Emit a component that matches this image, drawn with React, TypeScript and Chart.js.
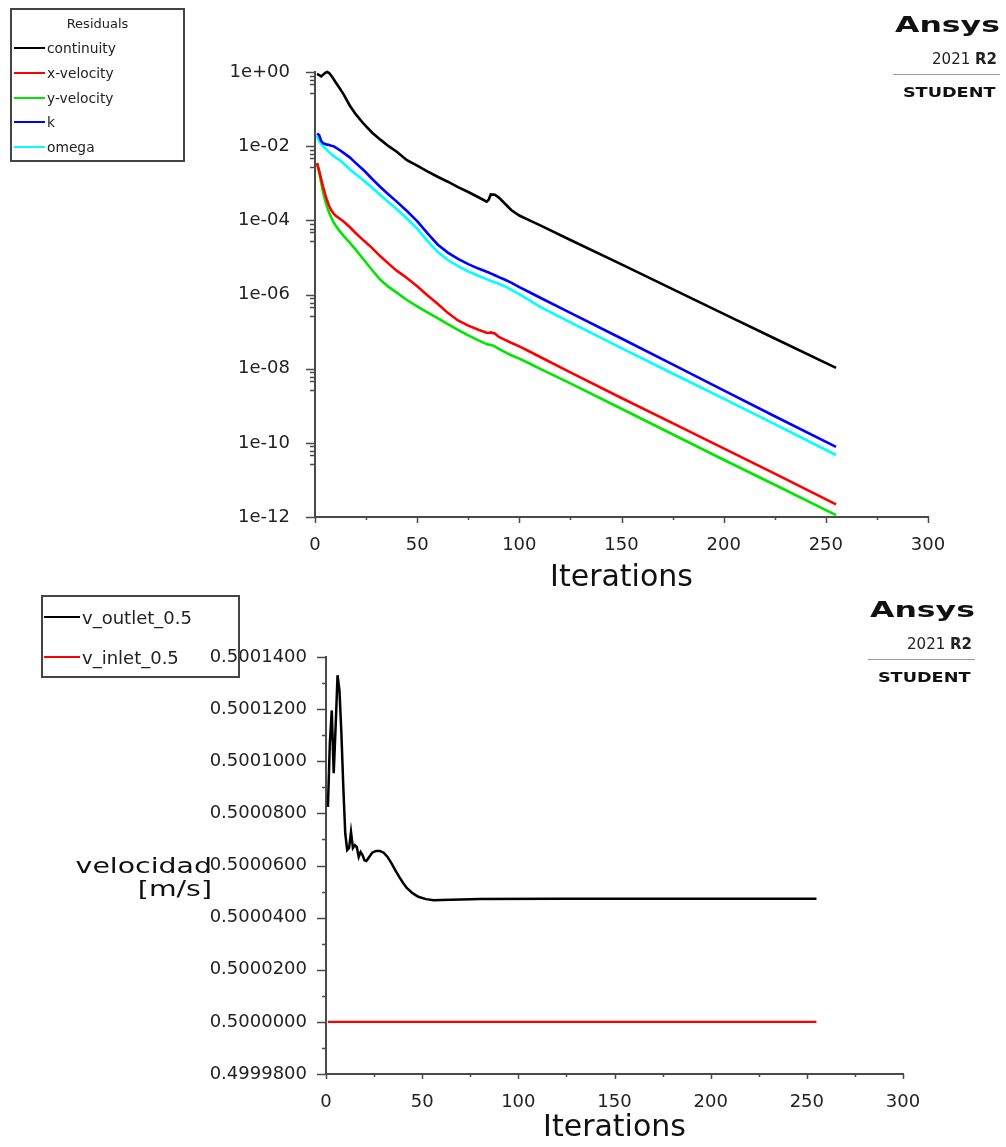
import React, { useEffect, useRef } from 'react';
import { Chart, registerables } from 'chart.js';

Chart.register(...registerables);

const FONT = "'DejaVu Sans', 'Liberation Sans', sans-serif";
const AXIS_COLOR = '#4a4a4a';
const TEXT_COLOR = '#222222';
Chart.defaults.font.family = FONT;
Chart.defaults.color = TEXT_COLOR;

// ---------- Residuals chart data ----------
const ITER_RES = [1, 2, 3, 4, 5, 6, 7, 8, 9, 10, 12, 14, 17, 20, 24, 28, 32, 36, 40, 45, 50, 55, 60, 65, 70, 75, 80, 84, 85, 86, 88, 90, 93, 96, 100, 105, 110, 125, 150, 175, 200, 225, 255];

const CONTINUITY = [
  0.89, 0.83, 0.76, 0.85, 0.95, 1.0, 0.93, 0.79, 0.66, 0.54,
  0.37, 0.25, 0.125, 0.072, 0.039, 0.023, 0.015, 0.010, 0.0071, 0.0042,
  0.0030, 0.0021, 0.0015, 0.0011, 7.9e-4, 5.8e-4, 4.2e-4, 3.2e-4, 3.6e-4, 5.0e-4,
  4.9e-4, 4.1e-4, 2.8e-4, 1.9e-4, 1.35e-4, 1.0e-4, 7.4e-5, 2.95e-5, 6.5e-6, 1.4e-6,
  3.0e-7, 6.5e-8, 1.05e-8,
];

const X_VELOCITY = [
  3.5e-3, 2.2e-3, 1.32e-3, 7.9e-4, 5.0e-4, 3.3e-4, 2.4e-4, 1.86e-4, 1.55e-4, 1.35e-4,
  1.12e-4, 9.3e-5, 6.6e-5, 4.5e-5, 2.8e-5, 1.78e-5, 1.07e-5, 6.8e-6, 4.4e-6, 2.8e-6,
  1.66e-6, 9.5e-7, 5.6e-7, 3.2e-7, 2.0e-7, 1.45e-7, 1.12e-7, 9.3e-8, 9.2e-8, 9.5e-8,
  8.9e-8, 7.2e-8, 6.0e-8, 5.0e-8, 4.0e-8, 2.9e-8, 2.1e-8, 7.9e-9, 1.62e-9, 3.4e-10,
  7.1e-11, 1.48e-11, 2.2e-12,
];

const Y_VELOCITY = [
  3.5e-3, 2.0e-3, 1.05e-3, 5.6e-4, 3.4e-4, 2.24e-4, 1.58e-4, 1.17e-4, 9.1e-5, 7.4e-5,
  5.2e-5, 3.8e-5, 2.5e-5, 1.6e-5, 8.5e-6, 4.5e-6, 2.5e-6, 1.6e-6, 1.12e-6, 7.1e-7,
  4.8e-7, 3.3e-7, 2.3e-7, 1.6e-7, 1.12e-7, 7.9e-8, 5.8e-8, 4.6e-8, 4.45e-8, 4.4e-8,
  4.0e-8, 3.4e-8, 2.8e-8, 2.3e-8, 1.86e-8, 1.38e-8, 1.0e-8, 4.0e-9, 8.3e-10, 1.7e-10,
  3.5e-11, 7.4e-12, 1.12e-12,
];

const K_RES = [
  0.022, 0.020, 0.014, 0.012, 0.0115, 0.011, 0.0107, 0.0103, 0.010, 0.0093,
  0.0079, 0.0066, 0.0050, 0.0035, 0.0022, 0.0013, 7.9e-4, 5.0e-4, 3.2e-4, 1.78e-4,
  9.5e-5, 4.5e-5, 2.24e-5, 1.35e-5, 9.1e-6, 6.6e-6, 5.0e-6, 4.1e-6, 3.9e-6, 3.7e-6,
  3.3e-6, 2.95e-6, 2.5e-6, 2.1e-6, 1.58e-6, 1.15e-6, 8.3e-7, 3.2e-7, 6.5e-8, 1.3e-8,
  2.6e-9, 5.2e-10, 7.8e-11,
];

const OMEGA_RES = [
  0.019, 0.014, 0.0117, 0.010, 0.0087, 0.0077, 0.0068, 0.0061, 0.0055, 0.0050,
  0.0043, 0.0034, 0.0024, 0.00174, 0.00117, 7.6e-4, 4.8e-4, 3.1e-4, 2.0e-4, 1.12e-4,
  6.0e-5, 2.8e-5, 1.41e-5, 8.5e-6, 5.8e-6, 4.2e-6, 3.2e-6, 2.6e-6, 2.45e-6, 2.35e-6,
  2.14e-6, 1.95e-6, 1.66e-6, 1.35e-6, 1.02e-6, 6.9e-7, 4.7e-7, 1.78e-7, 3.6e-8, 7.4e-9,
  1.55e-9, 3.2e-10, 4.7e-11,
];

const RES_SERIES = [
  { label: 'continuity', color: '#000000' },
  { label: 'x-velocity', color: '#ff0000' },
  { label: 'y-velocity', color: '#00e600' },
  { label: 'k', color: '#0000ff' },
  { label: 'omega', color: '#00ffff' },
];
const RES_VALUES = [CONTINUITY, X_VELOCITY, Y_VELOCITY, K_RES, OMEGA_RES];

const TOP_Y_MAJOR = [1, 1e-2, 1e-4, 1e-6, 1e-8, 1e-10, 1e-12];
const TOP_Y_MINOR_FACTORS = [0.8, 0.6, 0.47, 0.27];
const X_MAJOR = [0, 50, 100, 150, 200, 250, 300];
const X_MINOR = [25, 75, 125, 175, 225, 275];

// ---------- Monitor chart data ----------
const ITER_MON = [1, 2, 3, 4, 5, 6, 7, 8, 9, 10, 11, 12, 13, 14, 15, 16, 17, 18, 19, 20, 21, 22, 24, 26, 28, 30, 32, 34, 36, 38, 40, 42, 45, 48, 52, 56, 60, 80, 120, 180, 255];
const V_OUTLET = [
  0.5000825, 0.5001070, 0.5001195, 0.5000954, 0.5001131, 0.5001330, 0.5001272, 0.5001107, 0.5000901, 0.5000724,
  0.5000659, 0.5000667, 0.5000729, 0.5000667, 0.5000678, 0.5000671, 0.5000633, 0.5000652, 0.5000640, 0.5000620,
  0.5000617, 0.5000628, 0.5000649, 0.5000656, 0.5000656, 0.5000649, 0.5000633, 0.5000609, 0.5000582, 0.5000557,
  0.5000534, 0.5000514, 0.5000494, 0.5000480, 0.5000471, 0.5000467, 0.5000468, 0.5000471, 0.5000472, 0.5000472,
  0.5000472,
];
const ITER_INLET = [1, 255];
const V_INLET = [0.5, 0.5];

const BOTTOM_Y_MAJOR = [0.49998, 0.5, 0.50002, 0.50004, 0.50006, 0.50008, 0.5001, 0.50012, 0.50014];
const BOTTOM_Y_MINOR = [0.49999, 0.50001, 0.50003, 0.50005, 0.50007, 0.50009, 0.50011, 0.50013];

// ---------- helpers ----------
const fmtExp = (v: number) => {
  const e = Math.round(Math.log10(v));
  const sign = e < 0 ? '-' : '+';
  return '1e' + sign + String(Math.abs(e)).padStart(2, '0');
};

const tickMarksPlugin = {
  id: 'tickMarks',
  afterDraw(chart: any, _args: any, opts: any) {
    const { ctx } = chart;
    const xs = chart.scales.x;
    const ys = chart.scales.y;
    const axisY = xs.top;
    const axisX = ys.right;
    ctx.save();
    ctx.strokeStyle = opts.color;
    ctx.lineWidth = opts.lineWidth;
    ctx.beginPath();
    const vx = (vals: number[], len: number) => {
      vals.forEach((v) => {
        const p = Math.round(xs.getPixelForValue(v)) + 0.5;
        ctx.moveTo(p, axisY);
        ctx.lineTo(p, axisY + len);
      });
    };
    const vy = (vals: number[], len: number) => {
      vals.forEach((v) => {
        if (v < ys.min || v > ys.max) return;
        const p = Math.round(ys.getPixelForValue(v)) + 0.5;
        ctx.moveTo(axisX, p);
        ctx.lineTo(axisX - len, p);
      });
    };
    vx(opts.xMajor, opts.xMajorLen);
    vx(opts.xMinor, opts.xMinorLen);
    vy(opts.yMajor, opts.yMajorLen);
    vy(opts.yMinor, opts.yMinorLen);
    ctx.stroke();
    ctx.restore();
  },
};

const hiddenGrid = (len: number) => ({
  display: true,
  drawOnChartArea: false,
  color: 'rgba(0,0,0,0)',
  tickLength: len,
});

// ---------- Charts ----------
function ResidualsChart() {
  const ref = useRef<HTMLCanvasElement>(null);
  useEffect(() => {
    const topMinor: number[] = [];
    TOP_Y_MAJOR.forEach((m) => TOP_Y_MINOR_FACTORS.forEach((f) => topMinor.push(m * f)));
    const chart = new Chart(ref.current as HTMLCanvasElement, {
      type: 'line',
      data: {
        datasets: RES_SERIES.map((s, k) => ({
          label: s.label,
          data: ITER_RES.map((x, i) => ({ x, y: RES_VALUES[k][i] })),
          borderColor: s.color,
          backgroundColor: s.color,
          borderWidth: 2.6,
          pointRadius: 0,
          tension: 0,
          clip: 6,
        })),
      },
      options: {
        animation: false,
        responsive: false,
        devicePixelRatio: 1,
        layout: { padding: { left: 0, right: 78, top: 72, bottom: 0 } },
        plugins: {
          legend: { display: false },
          tooltip: { enabled: false },
          tickMarks: {
            color: AXIS_COLOR,
            lineWidth: 1.5,
            xMajor: X_MAJOR,
            xMinor: X_MINOR,
            yMajor: TOP_Y_MAJOR,
            yMinor: topMinor,
            xMajorLen: 6,
            xMinorLen: 3,
            yMajorLen: 9,
            yMinorLen: 5,
          },
        } as any,
        scales: {
          x: {
            type: 'linear',
            min: 0,
            max: 300,
            grid: hiddenGrid(6),
            border: { display: true, color: AXIS_COLOR, width: 2 },
            ticks: { stepSize: 50, maxRotation: 0, padding: 12, color: TEXT_COLOR, font: { size: 18 } },
            title: {
              display: true,
              text: 'Iterations',
              color: '#111111',
              font: { size: 30, lineHeight: 1.2 },
              padding: { top: 0, bottom: 4 },
            },
            afterFit: (s: any) => {
              s.height = 83;
            },
          },
          y: {
            type: 'logarithmic',
            min: 1e-12,
            max: 1,
            grid: hiddenGrid(9),
            border: { display: true, color: AXIS_COLOR, width: 2 },
            ticks: {
              autoSkip: false,
              padding: 16,
              color: TEXT_COLOR,
              font: { size: 18 },
              callback: (v: any) => fmtExp(Number(v)),
            },
            afterBuildTicks: (s: any) => {
              s.ticks = TOP_Y_MAJOR.map((v) => ({ value: v }));
            },
            afterFit: (s: any) => {
              s.width = 315;
            },
          },
        },
      } as any,
      plugins: [tickMarksPlugin as any],
    });
    return () => chart.destroy();
  }, []);
  return (
    <canvas
      ref={ref}
      width={1006}
      height={600}
      style={{ position: 'absolute', left: 0, top: 0, width: 1006, height: 600 }}
    />
  );
}

function MonitorChart() {
  const ref = useRef<HTMLCanvasElement>(null);
  useEffect(() => {
    const chart = new Chart(ref.current as HTMLCanvasElement, {
      type: 'line',
      data: {
        datasets: [
          {
            label: 'v_outlet_0.5',
            data: ITER_MON.map((x, i) => ({ x, y: V_OUTLET[i] })),
            borderColor: '#000000',
            backgroundColor: '#000000',
            borderWidth: 2.5,
            pointRadius: 0,
            tension: 0,
          },
          {
            label: 'v_inlet_0.5',
            data: ITER_INLET.map((x, i) => ({ x, y: V_INLET[i] })),
            borderColor: '#ff0000',
            backgroundColor: '#ff0000',
            borderWidth: 2.2,
            pointRadius: 0,
            tension: 0,
          },
        ],
      },
      options: {
        animation: false,
        responsive: false,
        devicePixelRatio: 1,
        layout: { padding: { left: 0, right: 103, top: 67, bottom: 0 } },
        plugins: {
          legend: { display: false },
          tooltip: { enabled: false },
          tickMarks: {
            color: AXIS_COLOR,
            lineWidth: 1.5,
            xMajor: X_MAJOR,
            xMinor: X_MINOR,
            yMajor: BOTTOM_Y_MAJOR,
            yMinor: BOTTOM_Y_MINOR,
            xMajorLen: 5,
            xMinorLen: 3,
            yMajorLen: 9,
            yMinorLen: 4,
          },
        } as any,
        scales: {
          x: {
            type: 'linear',
            min: 0,
            max: 300,
            grid: hiddenGrid(5),
            border: { display: true, color: AXIS_COLOR, width: 2 },
            ticks: { stepSize: 50, maxRotation: 0, padding: 13, color: TEXT_COLOR, font: { size: 18 } },
            title: {
              display: true,
              text: 'Iterations',
              color: '#111111',
              font: { size: 30, lineHeight: 1.2 },
              padding: { top: 0, bottom: 1 },
            },
            afterFit: (s: any) => {
              s.height = 73;
            },
          },
          y: {
            type: 'linear',
            min: 0.49998,
            max: 0.50014,
            grid: hiddenGrid(9),
            border: { display: true, color: AXIS_COLOR, width: 2 },
            ticks: {
              autoSkip: false,
              padding: 10,
              color: TEXT_COLOR,
              font: { size: 18 },
              callback: (v: any) => Number(v).toFixed(7),
            },
            afterBuildTicks: (s: any) => {
              s.ticks = BOTTOM_Y_MAJOR.map((v) => ({ value: v }));
            },
            afterFit: (s: any) => {
              s.width = 326;
            },
          },
        },
      } as any,
      plugins: [tickMarksPlugin as any],
    });
    return () => chart.destroy();
  }, []);
  return (
    <canvas
      ref={ref}
      width={1006}
      height={557}
      style={{ position: 'absolute', left: 0, top: 590, width: 1006, height: 557 }}
    />
  );
}

// ---------- HTML overlays ----------
const abs = (s: React.CSSProperties): React.CSSProperties => ({ position: 'absolute', ...s });

function LegendEntry({ x, y, lineW, color, label, size }: { x: number; y: number; lineW: number; color: string; label: string; size: number }) {
  return (
    <div style={abs({ left: x, top: y - 10, height: 20, display: 'flex', alignItems: 'center', whiteSpace: 'nowrap' })}>
      <span style={{ display: 'inline-block', width: lineW, height: 2, background: color }} />
      <span style={{ fontFamily: FONT, fontSize: size, color: TEXT_COLOR, marginLeft: 2 }}>{label}</span>
    </div>
  );
}

function Logo({ dx, dy }: { dx: number; dy: number }) {
  return (
    <>
      <div
        style={abs({
          right: 1006 - (1000 + dx),
          top: 15 + dy,
          fontFamily: FONT,
          fontWeight: 'bold',
          fontSize: 21,
          lineHeight: '21px',
          color: '#111',
          transform: 'scaleX(1.5)',
          transformOrigin: 'right center',
          whiteSpace: 'nowrap',
        })}
      >
        Ansys
      </div>
      <div
        style={abs({
          right: 1006 - (997 + dx),
          top: 51 + dy,
          fontFamily: FONT,
          fontSize: 15,
          lineHeight: '16px',
          color: '#222',
          whiteSpace: 'nowrap',
        })}
      >
        2021 <b>R2</b>
      </div>
      <div style={abs({ left: 893 + dx, top: 74 + dy, width: 107, height: 1, background: '#9a9a9a' })} />
      <div
        style={abs({
          right: 1006 - (995 + dx),
          top: 85 + dy,
          fontFamily: FONT,
          fontWeight: 'bold',
          fontSize: 14,
          lineHeight: '14px',
          color: '#111',
          transform: 'scaleX(1.26)',
          transformOrigin: 'right center',
          whiteSpace: 'nowrap',
        })}
      >
        STUDENT
      </div>
    </>
  );
}

export default function App() {
  return (
    <div style={abs({ left: 0, top: 0, width: 1006, height: 1147, background: '#ffffff', overflow: 'hidden' })}>
      <ResidualsChart />
      <MonitorChart />

      {/* Residuals legend */}
      <div style={abs({ left: 10, top: 8, width: 175, height: 154, border: '2px solid #444', boxSizing: 'border-box' })} />
      <div style={abs({ left: 10, top: 15, width: 175, textAlign: 'center', fontFamily: FONT, fontSize: 13, lineHeight: '18px', color: TEXT_COLOR })}>
        Residuals
      </div>
      {RES_SERIES.map((s, i) => (
        <LegendEntry key={s.label} x={14} y={48 + i * 24.8} lineW={31} color={s.color} label={s.label} size={13.8} />
      ))}

      {/* Monitor legend */}
      <div style={abs({ left: 41, top: 595, width: 199, height: 83, border: '2px solid #444', boxSizing: 'border-box' })} />
      <LegendEntry x={44} y={617} lineW={36} color="#000000" label="v_outlet_0.5" size={18} />
      <LegendEntry x={44} y={657} lineW={36} color="#ff0000" label="v_inlet_0.5" size={18} />

      {/* y-axis title of monitor chart */}
      <div
        style={abs({
          left: 0,
          width: 212,
          top: 854,
          textAlign: 'right',
          fontFamily: FONT,
          fontSize: 22,
          lineHeight: '23px',
          color: '#111',
          transform: 'scaleX(1.29)',
          transformOrigin: 'right center',
        })}
      >
        velocidad
        <br />
        [m/s]
      </div>

      <Logo dx={0} dy={0} />
      <Logo dx={-25} dy={585} />
    </div>
  );
}
